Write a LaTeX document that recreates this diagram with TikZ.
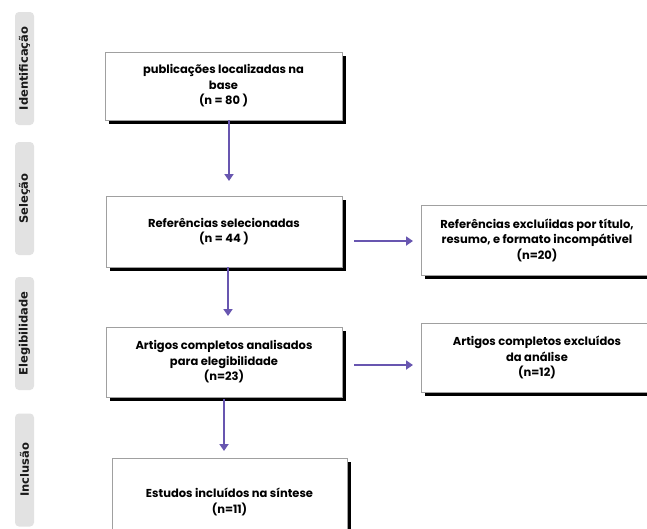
\documentclass[tikz,border=0pt]{standalone}
\usepackage{fontspec}
\setmainfont{Poppins}
\newfontfamily\sidefont{DejaVu Sans}
\usetikzlibrary{shadows,arrows.meta}
\definecolor{arrowpurple}{RGB}{104,86,176}
\definecolor{sidegray}{RGB}{226,226,226}
\definecolor{boxgray}{RGB}{160,160,160}
\begin{document}
\begin{tikzpicture}[x=1pt,y=-1pt,
  flowbox/.style={rectangle, draw=boxgray, line width=0.8pt, fill=white,
    align=center, font=\fontsize{11.5}{15.5}\selectfont\bfseries, text=black,
    drop shadow={shadow xshift=3.5pt, shadow yshift=-3.5pt, fill=black, opacity=1}},
  sidelabel/.style={rectangle, rounded corners=4pt, fill=sidegray, rotate=90,
    minimum width=113pt, minimum height=19pt, inner sep=0pt,
    font=\sidefont\fontsize{11.5}{12}\selectfont\bfseries, text=black!90},
  arr/.style={draw=arrowpurple, line width=1.9pt,
    -{Triangle[length=7pt,width=9pt]}}]
\useasboundingbox (0,0) rectangle (647,528);
\fill[white] (0,0) rectangle (647,528);

% side labels
\node[sidelabel] (sid) at (24.5,68.5) {Identificação};
\node[sidelabel] (ssel) at (24.5,198.5) {Seleção};
\node[sidelabel] (seleg) at (24.5,333.5) {Elegibilidade};
\node[sidelabel] (sinc) at (24.5,470) {Inclusão};

% boxes
\node[flowbox, minimum width=237pt, minimum height=68pt] (b1) at (223.5,86)
  {publicações localizadas na\\base\\(n = 80 )};
\node[flowbox, minimum width=236pt, minimum height=71pt] (b2) at (224,231.5)
  {Referências selecionadas\\(n = 44 )};
\node[flowbox, minimum width=232pt, minimum height=70pt] (b3) at (537,240)
  {Referências excluíidas por título,\\resumo, e formato incompátivel\\(n=20)};
\node[flowbox, minimum width=236pt, minimum height=70pt] (b4) at (224,362)
  {Artigos completos analisados\\para elegibilidade\\(n=23)};
\node[flowbox, minimum width=232pt, minimum height=69pt] (b5) at (537,357.5)
  {Artigos completos excluídos\\da análise\\(n=12)};
\node[flowbox, minimum width=235pt, minimum height=88pt] (b6) at (229.5,502)
  {Estudos incluídos na síntese\\(n=11)};

% arrow end points
\coordinate (e1) at (229,181);
\coordinate (e2) at (228,316);
\coordinate (e3) at (224,451);
\coordinate (e4) at (413,241);
\coordinate (e5) at (413,365);

\draw[arr] (b1.south -| e1) -- (e1);
\draw[arr] (b2.south -| e2) -- (e2);
\draw[arr] ([yshift=-2pt]b4.south -| e3) -- (e3);
\draw[arr] (354,241) -- (e4);
\draw[arr] (354,365) -- (e5);
\end{tikzpicture}
\end{document}
